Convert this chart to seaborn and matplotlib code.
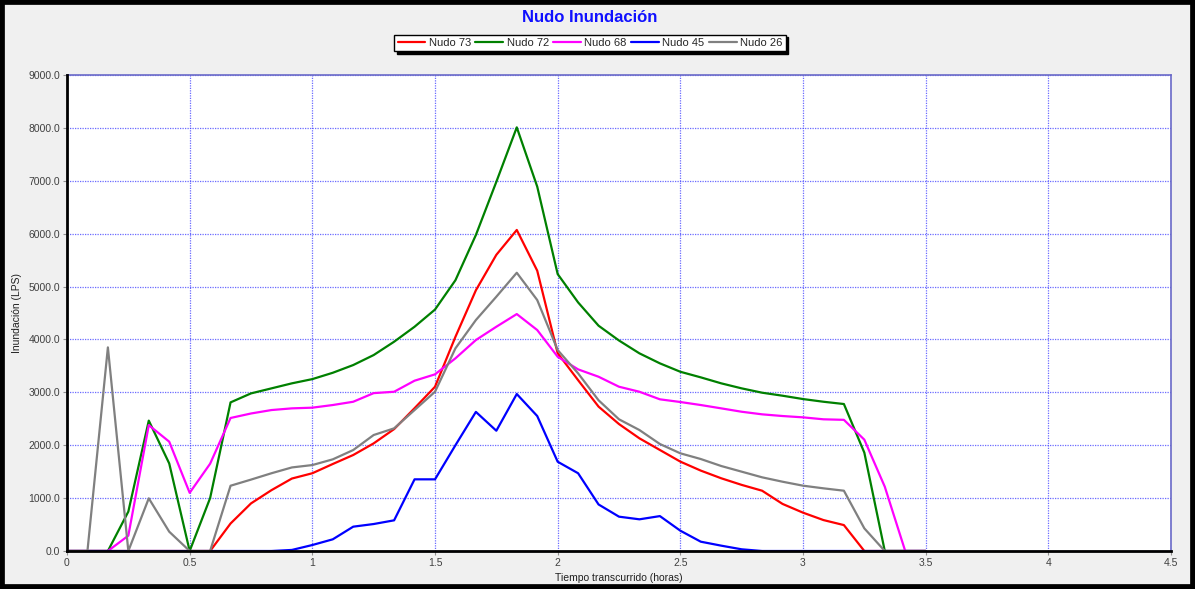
import numpy as np
import pandas as pd
import matplotlib
matplotlib.use("Agg")
import matplotlib.pyplot as plt
from matplotlib.patches import Rectangle
import seaborn as sns

# ---- data (5-minute steps, hours) ----
steps = list(range(0, 43))
tiempo = [k / 12 for k in steps]

nudo_73 = [0, 0, 0, 0, 0, 0, 0, 0, 520, 900,
           1150, 1370, 1470, 1645, 1815, 2035, 2305, 2700, 3105, 4050,
           4930, 5600, 6070, 5300, 3740, 3230, 2730, 2400, 2130, 1910,
           1690, 1520, 1375, 1250, 1140, 890, 725, 585, 490, 0,
           0, 0, 0]
nudo_72 = [0, 0, 0, 745, 2465, 1655, 0, 1000, 2810, 2980,
           3075, 3170, 3250, 3370, 3516, 3705, 3957, 4240, 4565, 5120,
           5975, 6980, 8010, 6890, 5236, 4700, 4260, 3980, 3737, 3548,
           3389, 3283, 3170, 3075, 2993, 2936, 2873, 2822, 2779, 1860,
           0, 0, 0]
nudo_68 = [0, 0, 0, 290, 2380, 2067, 1100, 1650, 2515, 2600,
           2665, 2697, 2710, 2760, 2822, 2985, 3011, 3220, 3340, 3643,
           3989, 4240, 4480, 4178, 3673, 3434, 3295, 3106, 3011, 2868,
           2817, 2760, 2697, 2633, 2584, 2552, 2527, 2490, 2480, 2105,
           1216, 0, 0]
nudo_45 = [0, 0, 0, 0, 0, 0, 0, 0, 0, 0,
           0, 20, 113, 221, 460, 510, 580, 1355, 1355, 2000,
           2630, 2274, 2968, 2552, 1688, 1470, 880, 649, 599, 660,
           384, 176, 101, 32, 0, 0, 0, 0, 0, 0,
           0, 0, 0]
nudo_26 = [0, 0, 3850, 0, 996, 365, 0, 0, 1234, 1350,
           1470, 1580, 1625, 1733, 1909, 2193, 2319, 2665, 3011, 3832,
           4367, 4808, 5261, 4745, 3800, 3359, 2850, 2490, 2287, 2023,
           1847, 1739, 1607, 1500, 1393, 1310, 1235, 1185, 1140, 428,
           0, 0, 0]

series_names = ["Nudo 73", "Nudo 72", "Nudo 68", "Nudo 45", "Nudo 26"]
series_values = [nudo_73, nudo_72, nudo_68, nudo_45, nudo_26]
series_colors = ["#ff0000", "#008000", "#ff00ff", "#0000ff", "#808080"]

x_ticks = [0, 0.5, 1, 1.5, 2, 2.5, 3, 3.5, 4, 4.5]
x_ticklabels = ["0", "0.5", "1", "1.5", "2", "2.5", "3", "3.5", "4", "4.5"]
y_ticks = list(range(0, 9001, 1000))
y_ticklabels = [f"{v:.1f}" for v in y_ticks]

df = pd.concat(
    [pd.DataFrame({"Tiempo": tiempo, "Inundacion": vals, "Nudo": name})
     for name, vals in zip(series_names, series_values)],
    ignore_index=True)

# ---- style ----
sns.set_theme(style="white")
plt.rcParams["font.family"] = ["Liberation Sans", "DejaVu Sans"]

W, H = 1195, 589
fig = plt.figure(figsize=(W / 100, H / 100), dpi=100, facecolor="#f0f0f0")
ax = fig.add_axes([67 / W, 1 - 551 / H, (1171 - 67) / W, (551 - 75) / H])
ax.set_facecolor("white")

sns.lineplot(data=df, x="Tiempo", y="Inundacion", hue="Nudo",
             hue_order=series_names, palette=dict(zip(series_names, series_colors)),
             linewidth=1.6, ax=ax, estimator=None, sort=False)

ax.set_xlim(0, 4.5)
ax.set_ylim(0, 9000)
ax.set_xticks(x_ticks)
ax.set_xticklabels(x_ticklabels)
ax.set_yticks(y_ticks)
ax.set_yticklabels(y_ticklabels)
ax.tick_params(axis="both", labelsize=7.5, labelcolor="#404040", color="#909090",
               length=3, width=0.8, direction="out", left=True, bottom=True, pad=2)

ax.grid(True, color="#3a3aff", linestyle=(0, (1, 1)), linewidth=0.9, alpha=0.75)
ax.set_axisbelow(True)

for side in ["left", "bottom"]:
    ax.spines[side].set_color("black")
    ax.spines[side].set_linewidth(2)
    ax.spines[side].set_zorder(5)
for side in ["top", "right"]:
    ax.spines[side].set_color("#6a6ac8")
    ax.spines[side].set_linewidth(1.2)

ax.set_xlabel("Tiempo transcurrido (horas)", fontsize=7.5, color="#202020")
ax.set_ylabel("Inundación (LPS)", fontsize=7.5, color="#202020")
ax.xaxis.set_label_coords(0.5, -0.046)
ax.yaxis.set_label_coords(-0.041, 0.5)

fig.text(590 / W, 1 - 18 / H, "Nudo Inundación", ha="center", va="center",
         fontsize=12, fontweight="bold", color="#1010ff")

sns.move_legend(ax, loc="center", bbox_to_anchor=(590 / W, 1 - 43 / H),
                bbox_transform=fig.transFigure, ncol=5, title=None,
                fontsize=8, frameon=True, fancybox=False,
                edgecolor="black", facecolor="white", framealpha=1,
                shadow={"color": "black", "alpha": 1},
                handlelength=2.5, handletextpad=0.3, columnspacing=0.4,
                borderpad=0.3, borderaxespad=0)
leg = ax.get_legend()
leg.get_frame().set_linewidth(1.0)
for line in leg.get_lines():
    line.set_linewidth(1.6)

fig.patches.append(Rectangle((0, 0), 1, 1, transform=fig.transFigure,
                             fill=False, edgecolor="black", linewidth=7,
                             zorder=10))

fig.savefig("out.png", dpi=100, facecolor=fig.get_facecolor())
